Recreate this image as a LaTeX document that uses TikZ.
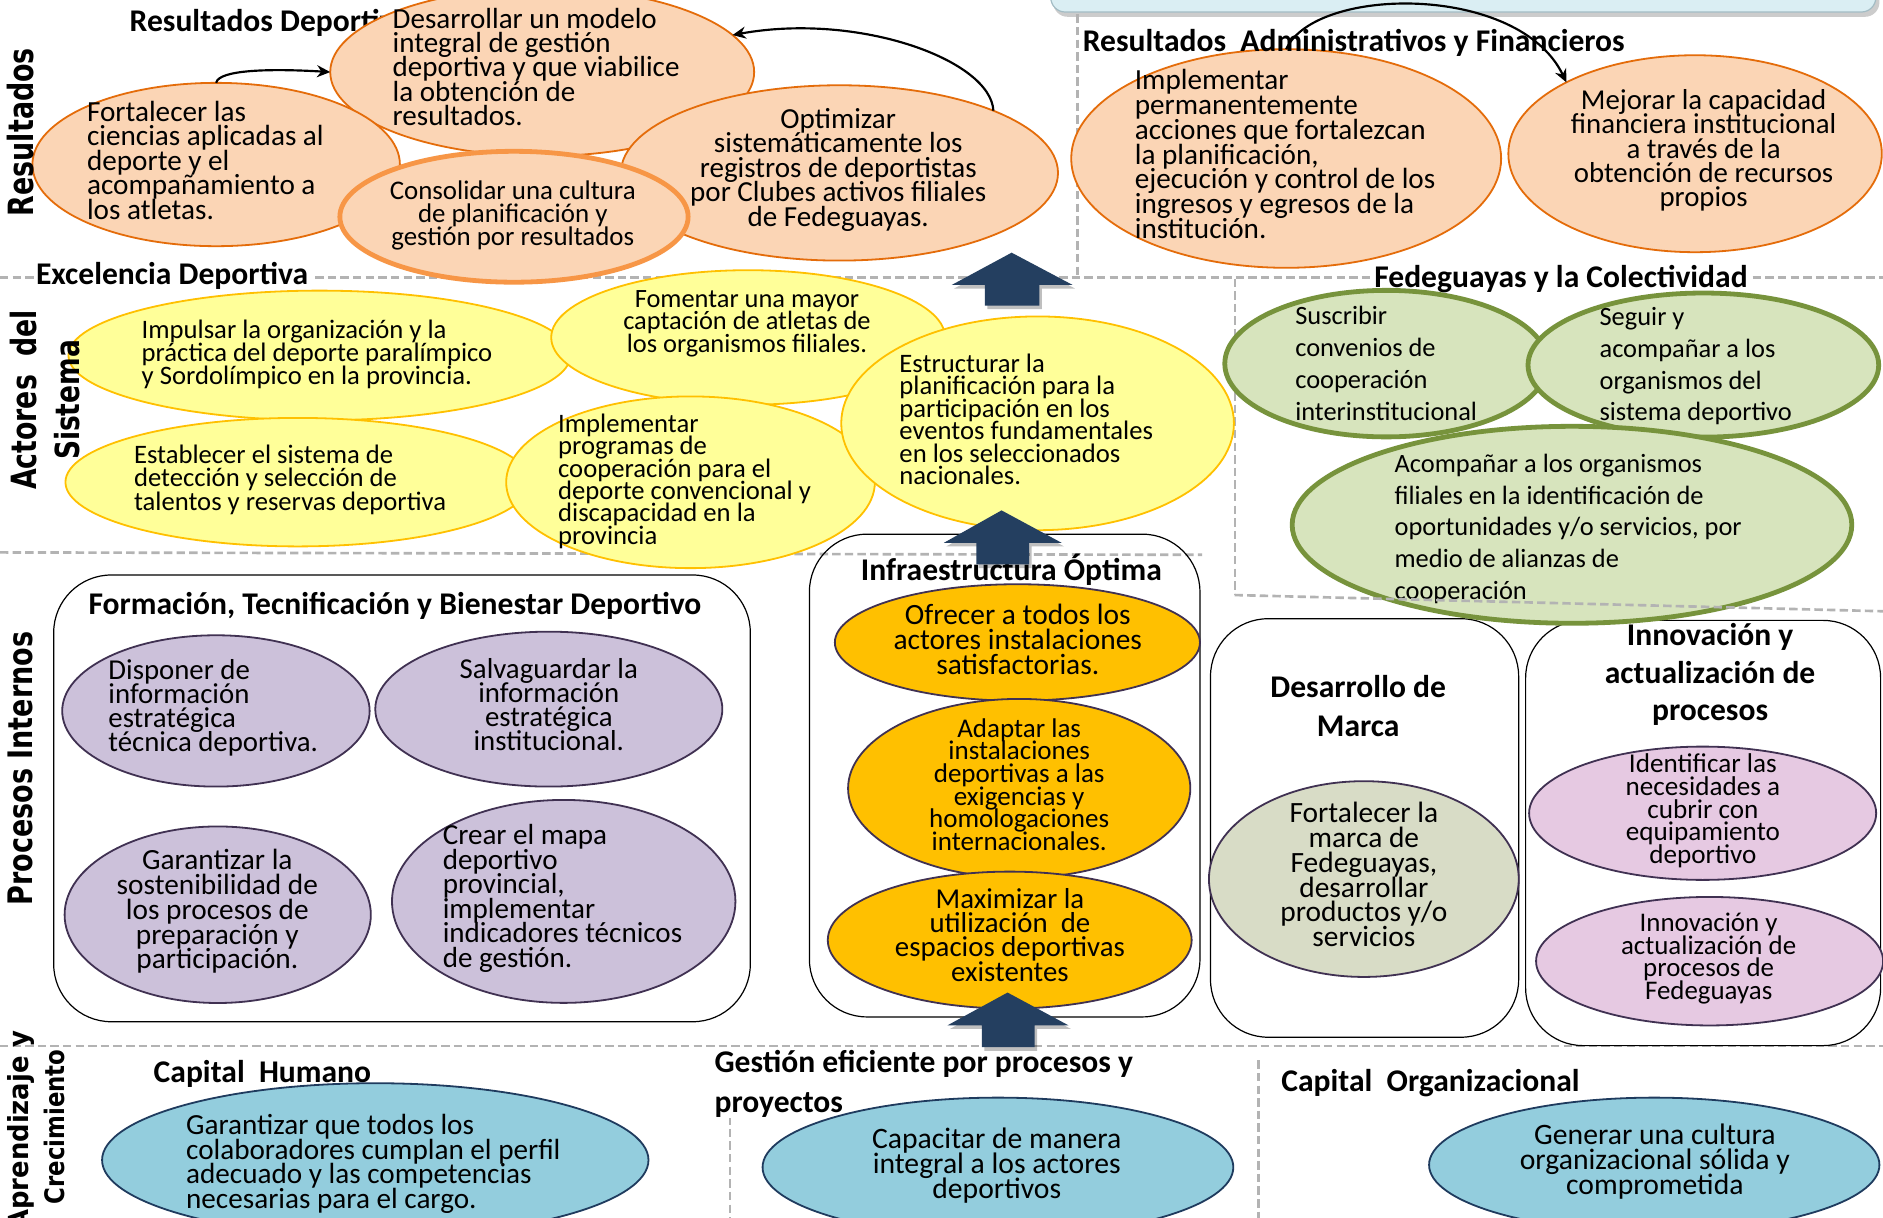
\documentclass[tikz,border=0pt]{standalone}
\usepackage{fontspec}
\setmainfont{Carlito}
\newfontfamily\sidefont{DejaVu Sans}
\usepackage{graphicx}
\usetikzlibrary{shapes.geometric,arrows.meta}
\definecolor{peach}{HTML}{FBD5B5}
\definecolor{orngline}{HTML}{E46C0A}
\definecolor{orngthick}{HTML}{F79646}
\definecolor{ylw}{HTML}{FFFF99}
\definecolor{ylwline}{HTML}{FFC000}
\definecolor{grn}{HTML}{D7E4BD}
\definecolor{grnline}{HTML}{77933C}
\definecolor{prp}{HTML}{CCC1DA}
\definecolor{prpline}{HTML}{403152}
\definecolor{goldf}{HTML}{FFC000}
\definecolor{marcaf}{HTML}{D8DCC6}
\definecolor{pinkf}{HTML}{E6C9E2}
\definecolor{blu}{HTML}{93CDDD}
\definecolor{bluline}{HTML}{1F3B5E}
\definecolor{navy}{HTML}{243F60}
\definecolor{dashgray}{HTML}{B3B3B3}
\definecolor{topbox}{HTML}{DAEEF3}
\definecolor{topboxline}{HTML}{A3BCC4}
\newcommand\TL[3]{{\fontsize{#1}{#2}\selectfont\let\\=\cr\vtop{\lineskiplimit=-\maxdimen\lineskip=0pt\halign{##\hfil\cr#3\crcr}}}}
\newcommand\TC[3]{{\fontsize{#1}{#2}\selectfont\let\\=\cr\vtop{\lineskiplimit=-\maxdimen\lineskip=0pt\halign{\hfil##\hfil\cr#3\crcr}}}}
\begin{document}
\begin{tikzpicture}[x=1pt,y=-1pt,
  ell/.style={ellipse, inner sep=0pt, outer sep=0pt},
  orng/.style={ell, fill=peach, draw=orngline, line width=1.5pt},
  orngk/.style={ell, fill=peach, draw=orngthick, line width=4pt},
  yel/.style={ell, fill=ylw, draw=ylwline, line width=1.5pt},
  gre/.style={ell, fill=grn, draw=grnline, line width=4pt},
  pur/.style={ell, fill=prp, draw=prpline, line width=1.5pt},
  gol/.style={ell, fill=goldf, draw=prpline, line width=1.5pt},
  mar/.style={ell, fill=marcaf, draw=prpline, line width=1.5pt},
  pnk/.style={ell, fill=pinkf, draw=prpline, line width=1.5pt},
  blue/.style={ell, fill=blu, draw=bluline, line width=1.5pt},
  txt/.style={inner sep=0pt, outer sep=0pt},
  ttl/.style={inner sep=0pt, outer sep=0pt, font=\bfseries\fontsize{26.3}{31}\selectfont},
  ttlw/.style={ttl, fill=white, inner xsep=2pt, inner ysep=0pt},
  side/.style={rotate=90, anchor=base, inner sep=0pt},
  dsh/.style={draw=dashgray, line width=2.2pt, dash pattern=on 7pt off 3.5pt},
  box/.style={draw=black, line width=1pt, rounded corners=48pt},
  conn/.style={draw=black, line width=1.8pt, -{Stealth[length=11pt,width=10pt]}},
  bigarrow/.style={fill=navy},
  arrowshadow/.style={fill=black, opacity=0.25}
]
\useasboundingbox (0,0) rectangle (1568,1014);
\clip (0,0) rectangle (1568,1014);
\fill[white] (0,0) rectangle (1568,1014);

% top right box
\fill[black, opacity=0.2, rounded corners=12pt] (877,-30) rectangle (1565,14);
\draw[fill=topbox, draw=topboxline, line width=1pt, rounded corners=12pt] (875,-30) rectangle (1562,10);

% dashed guides (under)
\draw[dsh] (0,231) -- (1568,231);
\draw[dsh] (897,12) -- (897,231);
\draw[dsh] (1028.5,232) -- (1028.5,495.5);
\draw[dsh] (0,460) -- (1001,462);
\draw[dsh] (0,871) -- (1568,871);
\draw[dsh] (608,898) -- (608,1014);
\draw[dsh] (1048,883) -- (1048,1014);

% rounded group boxes
\draw[box] (44.7,478.8) rectangle (624.8,850.8);
\draw[box] (674,444.8) rectangle (999.2,846.8);
\draw[box] (1008,515.2) rectangle (1264.6,863.7);
\draw[box] (1270.4,516.6) rectangle (1566,870.7);

% ---------- Resultados ----------
\node[ttl, anchor=base west] (h-resdep) at (108,25.9) {Resultados Deportivos};
\node[orng, minimum width=353pt, minimum height=140pt] (e-desarrollar) at (451.5,60) {};
\node[txt, anchor=base west] (t-desarrollar) at (327,23.5) {\TL{24.2}{20.3}{Desarrollar un modelo\\integral de gestión\\deportiva y que viabilice\\la obtención de\\resultados.}};
\node[orng, minimum width=306pt, minimum height=136pt] (e-fortalecer) at (180,137) {};
\node[txt, anchor=base west] (t-fortalecer) at (72.5,100.8) {\TL{24.3}{20.5}{Fortalecer las\\ciencias aplicadas al\\deporte y el\\acompañamiento a\\los atletas.}};
\node[orng, minimum width=364pt, minimum height=146pt] (e-optimizar) at (699,144) {};
\node[txt, anchor=base] (t-optimizar) at (698,106.7) {\TC{24.2}{20.4}{Optimizar\\sistemáticamente los\\registros de deportistas\\por Clubes activos filiales\\de Fedeguayas.}};
\node[orngk, minimum width=290pt, minimum height=109pt] (e-consolidar) at (428,180.5) {};
\node[txt, anchor=base] (t-consolidar) at (427,166.3) {\TC{22.4}{19}{Consolidar una cultura\\de planificación y\\gestión por resultados}};

\node[orng, minimum width=358pt, minimum height=182pt] (e-implementar) at (1071,132) {};
\node[txt, anchor=base west] (t-implementar) at (945,74.8) {\TL{24.3}{20.6}{Implementar\\permanentemente\\acciones que fortalezcan\\la planificación,\\ejecución y control de los\\ingresos y egresos de la\\institución.}};
\node[orng, minimum width=311pt, minimum height=164pt] (e-mejorar) at (1411.5,128) {};
\node[txt, anchor=base] (t-mejorar) at (1418.6,91.4) {\TC{24}{20.1}{Mejorar la capacidad\\financiera institucional\\a través de la\\obtención de recursos\\propios}};
\node[ttl, anchor=base west] (h-resadm) at (901.7,42.6) {Resultados\ \ Administrativos y Financieros};

% ---------- Actores del sistema ----------
\node[ttlw, anchor=base west] (h-excel) at (28,237) {Excelencia Deportiva};
\node[yel, minimum width=418pt, minimum height=108pt] (e-impulsar) at (266,296) {};
\node[txt, anchor=base west] (t-impulsar) at (118,282.2) {\TL{22.2}{18.9}{Impulsar la organización y la\\práctica del deporte paralímpico\\y Sordolímpico en la provincia.}};
\node[yel, minimum width=387pt, minimum height=107pt] (e-establecer) at (248,401.5) {};
\node[txt, anchor=base west] (t-establecer) at (111.6,386.2) {\TL{22.2}{19.3}{Establecer el sistema de\\detección y selección de\\talentos y reservas deportiva}};
\node[yel, minimum width=328pt, minimum height=112pt] (e-fomentar) at (623,281) {};
\node[txt, anchor=base] (t-fomentar) at (622,256.2) {\TC{22}{18.5}{Fomentar una mayor\\captación de atletas de\\los organismos filiales.}};
\node[yel, minimum width=307pt, minimum height=143pt] (e-implprog) at (575,401.6) {};
\node[txt, anchor=base west] (t-implprog) at (464.8,360.2) {\TL{22.2}{18.6}{Implementar\\programas de\\cooperación para el\\deporte convencional y\\discapacidad en la\\provincia}};
\node[yel, minimum width=327pt, minimum height=178pt] (e-estructurar) at (864,352.5) {};
\node[txt, anchor=base west] (t-estructurar) at (749,310.2) {\TL{22.2}{18.7}{Estructurar la\\planificación para la\\participación en los\\eventos fundamentales\\en los seleccionados\\nacionales.}};

\node[ttlw, anchor=base west] (h-fede) at (1142.4,239.6) {Fedeguayas y la Colectividad};
\node[gre, minimum width=269pt, minimum height=122pt] (e-suscribir) at (1154.4,302.8) {};
\node[txt, anchor=base west] (t-suscribir) at (1078.6,269.9) {\TL{22}{26.8}{Suscribir\\convenios de\\cooperación\\interinstitucional}};
\node[gre, minimum width=292pt, minimum height=120pt] (e-seguir) at (1418.4,304) {};
\node[txt, anchor=base west] (t-seguir) at (1332,271.2) {\TL{22}{26.4}{Seguir y\\acompañar a los\\organismos del\\sistema deportivo}};
\node[gre, minimum width=466pt, minimum height=164pt] (e-acompanar) at (1309,437) {};
\node[txt, anchor=base west] (t-acompanar) at (1161.3,393.4) {\TL{22}{26.4}{Acompañar a los organismos\\filiales en la identificación de\\oportunidades y/o servicios, por\\medio de alianzas de\\cooperación}};
\draw[dsh] (1028,495.5) -- (1568,509);

% ---------- Procesos internos ----------
\node[ttl, anchor=base west] (h-form) at (73.7,511.7) {Formación, Tecnificación y Bienestar Deportivo};
\node[pur, minimum width=256pt, minimum height=126pt] (e-disponer) at (179.8,592) {};
\node[txt, anchor=base west] (t-disponer) at (90.3,566) {\TL{24}{20}{Disponer de\\información\\estratégica\\técnica deportiva.}};
\node[pur, minimum width=289pt, minimum height=129pt] (e-salvaguardar) at (457,590.5) {};
\node[txt, anchor=base] (t-salvaguardar) at (457,564.7) {\TC{24}{20.1}{Salvaguardar la\\información\\estratégica\\institucional.}};
\node[pur, minimum width=255pt, minimum height=147pt] (e-garantizar) at (181.3,761.7) {};
\node[txt, anchor=base] (t-garantizar) at (181,724.3) {\TC{24.4}{20.6}{Garantizar la\\sostenibilidad de\\los procesos de\\preparación y\\participación.}};
\node[pur, minimum width=286pt, minimum height=169pt] (e-crear) at (469.4,750.6) {};
\node[txt, anchor=base west] (t-crear) at (368.7,703.5) {\TL{24.2}{20.4}{Crear el mapa\\deportivo\\provincial,\\implementar\\indicadores técnicos\\de gestión.}};

\node[ttl, anchor=base west] (h-infra) at (716.9,483.1) {Infraestructura Óptima};
\node[gol, minimum width=304pt, minimum height=97pt] (e-ofrecer) at (847.2,535) {};
\node[txt, anchor=base] (t-ofrecer) at (847.5,520) {\TC{24.5}{20.7}{Ofrecer a todos los\\actores instalaciones\\satisfactorias.}};
\node[gol, minimum width=285pt, minimum height=149pt] (e-adaptar) at (848.7,656.5) {};
\node[txt, anchor=base] (t-adaptar) at (848.7,613.8) {\TC{22.5}{18.9}{Adaptar las\\instalaciones\\deportivas a las\\exigencias y\\homologaciones\\internacionales.}};
\node[gol, minimum width=303pt, minimum height=114pt] (e-maximizar) at (840.8,782.8) {};
\node[txt, anchor=base] (t-maximizar) at (841,756.4) {\TC{24}{20.2}{Maximizar la\\utilización\ \ de\\espacios deportivas\\existentes}};

\node[txt, anchor=base] (h-marca) at (1131,580.8) {\bfseries\TC{26.3}{32.4}{Desarrollo de\\Marca}};
\node[mar, minimum width=258pt, minimum height=163pt] (e-marca) at (1135.7,732) {};
\node[txt, anchor=base] (t-marca) at (1135.7,684.9) {\TC{24.5}{20.7}{Fortalecer la\\marca de\\Fedeguayas,\\desarrollar\\productos y/o\\servicios}};

\node[txt, anchor=base] (h-innov) at (1424,537.9) {\bfseries\TC{26.3}{31}{Innovación y\\actualización de\\procesos}};
\node[pnk, minimum width=289pt, minimum height=111pt] (e-identificar) at (1417.8,677.2) {};
\node[txt, anchor=base] (t-identificar) at (1418,643.3) {\TC{22.6}{19}{Identificar las\\necesidades a\\cubrir con\\equipamiento\\deportivo}};
\node[pnk, minimum width=289pt, minimum height=107pt] (e-innovacion) at (1423.6,800.4) {};
\node[txt, anchor=base] (t-innovacion) at (1422.8,775.7) {\TC{22.4}{18.8}{Innovación y\\actualización de\\procesos de\\Fedeguayas}};

% ---------- Aprendizaje y crecimiento ----------
\node[ttl, anchor=base west] (h-caphum) at (128,901.1) {Capital\ \ Humano};
\node[blue, minimum width=455pt, minimum height=128pt] (e-capital) at (312.5,966) {};
\node[txt, anchor=base west] (t-capital) at (155,945) {\TL{24.3}{20.4}{Garantizar que todos los\\colaboradores cumplan el perfil\\adecuado y las competencias\\necesarias para el cargo.}};
\node[txt, fill=white, inner xsep=1pt, anchor=base west] (h-gestion) at (594,893.4) {\bfseries\TL{26.3}{33.3}{Gestión eficiente por procesos y\\proyectos}};
\node[blue, minimum width=392pt, minimum height=116pt] (e-capacitar) at (831,972) {};
\node[txt, anchor=base] (t-capacitar) at (830,956.2) {\TC{24.7}{20.8}{Capacitar de manera\\integral a los actores\\deportivos}};
\node[ttl, anchor=base west] (h-caporg) at (1067,908.6) {Capital\ \ Organizacional};
\node[blue, minimum width=375pt, minimum height=112pt] (e-generar) at (1377.5,970) {};
\node[txt, anchor=base] (t-generar) at (1378,953.4) {\TC{24.7}{20.8}{Generar una cultura\\organizacional sólida y\\comprometida}};

% ---------- big navy arrows ----------
\fill[arrowshadow] (844.4,213.4) -- (895.2,240.3) -- (867.5,240.3) -- (867.5,257.5) -- (822.2,257.5) -- (822.2,240.3) -- (794.5,240.3) -- cycle;
\fill[bigarrow] (842.4,210.4) -- (893.2,237.3) -- (865.5,237.3) -- (865.5,254.5) -- (820.2,254.5) -- (820.2,237.3) -- (792.5,237.3) -- cycle;
\fill[arrowshadow] (836,428) -- (886,455) -- (859,455) -- (859,473) -- (815,473) -- (815,455) -- (788,455) -- cycle;
\fill[bigarrow] (834,425) -- (884,452) -- (857,452) -- (857,470) -- (813,470) -- (813,452) -- (786,452) -- cycle;
\fill[arrowshadow] (841,829.5) -- (891.7,856.8) -- (863.6,856.8) -- (863.6,875) -- (819.6,875) -- (819.6,856.8) -- (791,856.8) -- cycle;
\fill[bigarrow] (839,826.5) -- (889.7,853.8) -- (861.6,853.8) -- (861.6,872) -- (817.6,872) -- (817.6,853.8) -- (789,853.8) -- cycle;

% ---------- connectors ----------
\draw[conn] (e-fortalecer.north) .. controls (182,58) and (225,57) .. (e-desarrollar.west);
\draw[conn] (e-optimizar.22) .. controls (825,50) and (715,10) .. (e-desarrollar.11);
\draw[conn] (e-implementar.north) .. controls (1095,-12) and (1265,-14) .. (e-mejorar.151);

% ---------- side labels ----------
\node[side] (s-res) at (28,110) {\resizebox{140pt}{22pt}{\sidefont\bfseries Resultados}};
\node[side] (s-act) at (30,333) {\resizebox{150pt}{22pt}{\sidefont\bfseries Actores\ \ del}};
\node[side] (s-sis) at (66,333) {\resizebox{100pt}{21pt}{\sidefont\bfseries Sistema}};
\node[side] (s-proc) at (27,640) {\resizebox{228pt}{20.5pt}{\sidefont\bfseries Procesos Internos}};
\node[side] (s-apr) at (24,941) {\resizebox{166pt}{17.5pt}{\sidefont\bfseries Aprendizaje y}};
\node[side] (s-cre) at (54,938.5) {\resizebox{129pt}{17pt}{\sidefont\bfseries Crecimiento}};
\end{tikzpicture}
\end{document}
